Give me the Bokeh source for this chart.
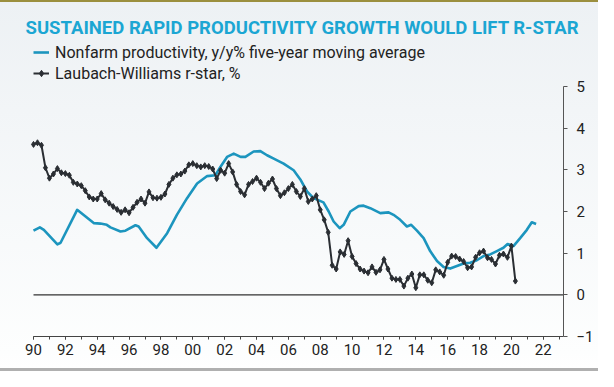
from bokeh.plotting import figure
from bokeh.models import Range1d, FixedTicker, Legend, LegendItem, Title
from bokeh.embed import file_html
from bokeh.resources import INLINE

# ---------------- data ----------------
title_text = "SUSTAINED RAPID PRODUCTIVITY GROWTH WOULD LIFT R-STAR"
series_names = ["Nonfarm productivity, y/y% five-year moving average",
                "Laubach-Williams r-star, %"]

prod_year = [1990.0, 1990.4, 1990.65, 1991.5, 1991.7, 1992.74, 1993.8, 1994.2, 1994.6,
             1994.83, 1995.46, 1995.77, 1996.4, 1996.6, 1997.13, 1997.72, 1998.39, 1999.0,
             1999.64, 2000.27, 2000.9, 2001.42, 2001.73, 2002.15, 2002.57, 2003.0, 2003.3,
             2003.82, 2004.24, 2004.66, 2005.08, 2005.7, 2006.33, 2006.75, 2007.17, 2007.58,
             2008.2, 2008.53, 2008.84, 2009.22, 2009.47, 2009.89, 2010.41, 2010.72, 2011.14,
             2011.77, 2012.29, 2012.6, 2013.02, 2013.44, 2013.71, 2014.07, 2014.49, 2014.9,
             2015.33, 2015.74, 2016.16, 2016.58, 2017.0, 2017.41, 2017.83, 2018.25, 2018.67,
             2019.09, 2019.5, 2019.76, 2020.13, 2020.55, 2020.97, 2021.28, 2021.55]
prod_val = [1.54, 1.62, 1.56, 1.21, 1.25, 2.04, 1.72, 1.71, 1.68,
            1.62, 1.52, 1.54, 1.67, 1.64, 1.36, 1.13, 1.48, 1.92,
            2.32, 2.67, 2.85, 2.87, 3.07, 3.31, 3.39, 3.31, 3.31,
            3.44, 3.45, 3.35, 3.27, 3.15, 2.99, 2.77, 2.48, 2.32,
            2.22, 2.00, 1.76, 1.60, 1.68, 2.00, 2.13, 2.14, 2.08,
            1.96, 1.98, 1.92, 1.80, 1.64, 1.68, 1.54, 1.36, 1.05,
            0.81, 0.67, 0.63, 0.69, 0.75, 0.77, 0.83, 0.93, 0.97,
            1.05, 1.13, 1.22, 1.17, 1.36, 1.56, 1.74, 1.70]

rstar_start_year = 1990.0   # quarterly observations from 1990Q1
rstar_val = [3.61, 3.65, 3.59, 3.05, 2.80, 2.90, 3.03, 2.93,   # 1990-91
             2.91, 2.87, 2.70, 2.66, 2.62, 2.50, 2.35, 2.30,   # 1992-93
             2.30, 2.43, 2.28, 2.20, 2.12, 2.05, 1.98, 2.04,   # 1994-95
             1.97, 2.10, 2.22, 2.30, 2.20, 2.47, 2.33, 2.32,   # 1996-97
             2.34, 2.42, 2.65, 2.80, 2.88, 2.90, 2.97, 3.12,   # 1998-99
             3.15, 3.10, 3.07, 3.10, 3.08, 3.02, 2.79, 2.99,   # 2000-01
             2.92, 3.15, 2.95, 2.65, 2.48, 2.40, 2.65, 2.72,   # 2002-03
             2.80, 2.70, 2.55, 2.68, 2.78, 2.55, 2.38, 2.45,   # 2004-05
             2.55, 2.65, 2.48, 2.36, 2.55, 2.24, 2.30, 2.38,   # 2006-07
             2.04, 1.80, 1.50, 0.71, 0.62, 1.03, 0.97, 1.30,   # 2008-09
             0.92, 0.75, 0.62, 0.57, 0.53, 0.67, 0.54, 0.60,   # 2010-11
             0.85, 0.62, 0.40, 0.37, 0.37, 0.21, 0.40, 0.50,   # 2012-13
             0.17, 0.48, 0.48, 0.35, 0.29, 0.60, 0.55, 0.47,   # 2014-15
             0.78, 0.93, 0.92, 0.86, 0.80, 0.65, 0.67, 0.90,   # 2016-17
             1.01, 1.05, 0.89, 0.85, 0.74, 0.95, 0.98, 0.90,   # 2018-19
             1.17, 0.33]                                       # 2020
rstar_year = [rstar_start_year + i / 4 for i in range(len(rstar_val))]

x_tick_years = [1990, 1992, 1994, 1996, 1998, 2000, 2002, 2004, 2006, 2008,
                2010, 2012, 2014, 2016, 2018, 2020, 2022]
x_tick_labels = ["90", "92", "94", "96", "98", "00", "02", "04", "06", "08",
                 "10", "12", "14", "16", "18", "20", "22"]
x_minor_years = list(range(1990, 2024))
y_ticks = [-1, 0, 1, 2, 3, 4, 5]

# axis extents
X_START, X_END = 1990.0, 2023.27
Y_MIN, Y_MAX = -1, 5

# ---------------- layout (pixels) ----------------
W, H = 598, 371
TOP = 40                               # frame top (title panel sits above it)
AX_LEFT_PX, AX_TOP_PX = 33, 86         # where X_START and Y_MAX sit on the canvas
FRAME_W = 530 + AX_LEFT_PX
FRAME_H = 336 - TOP
px_per_x = 530 / (X_END - X_START)
px_per_y = 250 / (Y_MAX - Y_MIN)
x_lo = X_START - AX_LEFT_PX / px_per_x
y_hi = Y_MAX + (AX_TOP_PX - TOP) / px_per_y

# ---------------- styling ----------------
BLUE = "#1C95BE"
BLACK = "#2A2E33"
TITLE_BLUE = "#1BA6D3"
FONT = "Roboto"

p = figure(width=W, height=H, output_backend="svg", toolbar_location=None,
           x_range=Range1d(x_lo, X_END), y_range=Range1d(Y_MIN, y_hi),
           y_axis_location="right",
           frame_width=FRAME_W, frame_height=FRAME_H,
           min_border_left=0, min_border_top=TOP,
           min_border_right=W - FRAME_W, min_border_bottom=H - FRAME_H - TOP)
p.border_fill_color = None
p.background_fill_color = None
p.outline_line_color = None
p.styles = {"background-image":
            "linear-gradient(to bottom, #9B8F3E 0px, #9B8F3E 2px, #EDF1F4 2px, #FDFEFE 95%, "
            "#FFFFFF 99.3%, #B0B0B0 99.3%, #B0B0B0 100%)"}
p.grid.visible = False

p.title = Title(text=title_text, align="left", offset=25, standoff=4,
                text_font=FONT, text_font_style="bold", text_font_size="18.5px",
                text_color=TITLE_BLUE)

# axes
xa = p.xaxis[0]
xa.bounds = (X_START, X_END)
xa.ticker = FixedTicker(ticks=x_tick_years, minor_ticks=x_minor_years)
xa.major_label_overrides = dict(zip(x_tick_years, x_tick_labels))
xa.major_tick_in = 0
xa.major_tick_out = 3
xa.minor_tick_in = 0
xa.minor_tick_out = 3
xa.axis_line_color = "#444444"
xa.major_tick_line_color = "#444444"
xa.minor_tick_line_color = "#444444"
xa.major_label_text_font = FONT
xa.major_label_text_font_size = "15px"
xa.major_label_text_color = "#222222"
xa.major_label_standoff = 4

ya = p.yaxis[0]
ya.bounds = (Y_MIN, Y_MAX)
ya.ticker = FixedTicker(ticks=y_ticks)
ya.major_tick_in = 0
ya.major_tick_out = 4
ya.minor_tick_line_color = None
ya.axis_line_color = "#555555"
ya.major_tick_line_color = "#555555"
ya.major_label_text_font = FONT
ya.major_label_text_font_size = "15px"
ya.major_label_text_color = "#222222"
ya.major_label_standoff = 9

# zero line across the axis extent
p.line([X_START, X_END], [0, 0], line_color="#333333", line_width=1.2)

r_blue = p.line(prod_year, prod_val, line_color=BLUE, line_width=2.6, line_join="round")
r_black = p.line(rstar_year, rstar_val, line_color=BLACK, line_width=2, line_join="round")
r_black_pts = p.scatter(rstar_year, rstar_val, marker="diamond", size=6,
                        fill_color=BLACK, line_color=BLACK)

legend = Legend(items=[LegendItem(label=series_names[0], renderers=[r_blue]),
                       LegendItem(label=series_names[1], renderers=[r_black, r_black_pts])],
                location=(AX_LEFT_PX, 336 - 83), orientation="vertical",
                padding=0, margin=0, spacing=1,
                glyph_width=16, glyph_height=20, label_height=20, label_standoff=6,
                label_text_font=FONT, label_text_font_size="16px",
                label_text_color="#222222",
                border_line_color=None, background_fill_alpha=0)
p.add_layout(legend, "center")

open("out.html", "w").write(file_html(p, INLINE))
